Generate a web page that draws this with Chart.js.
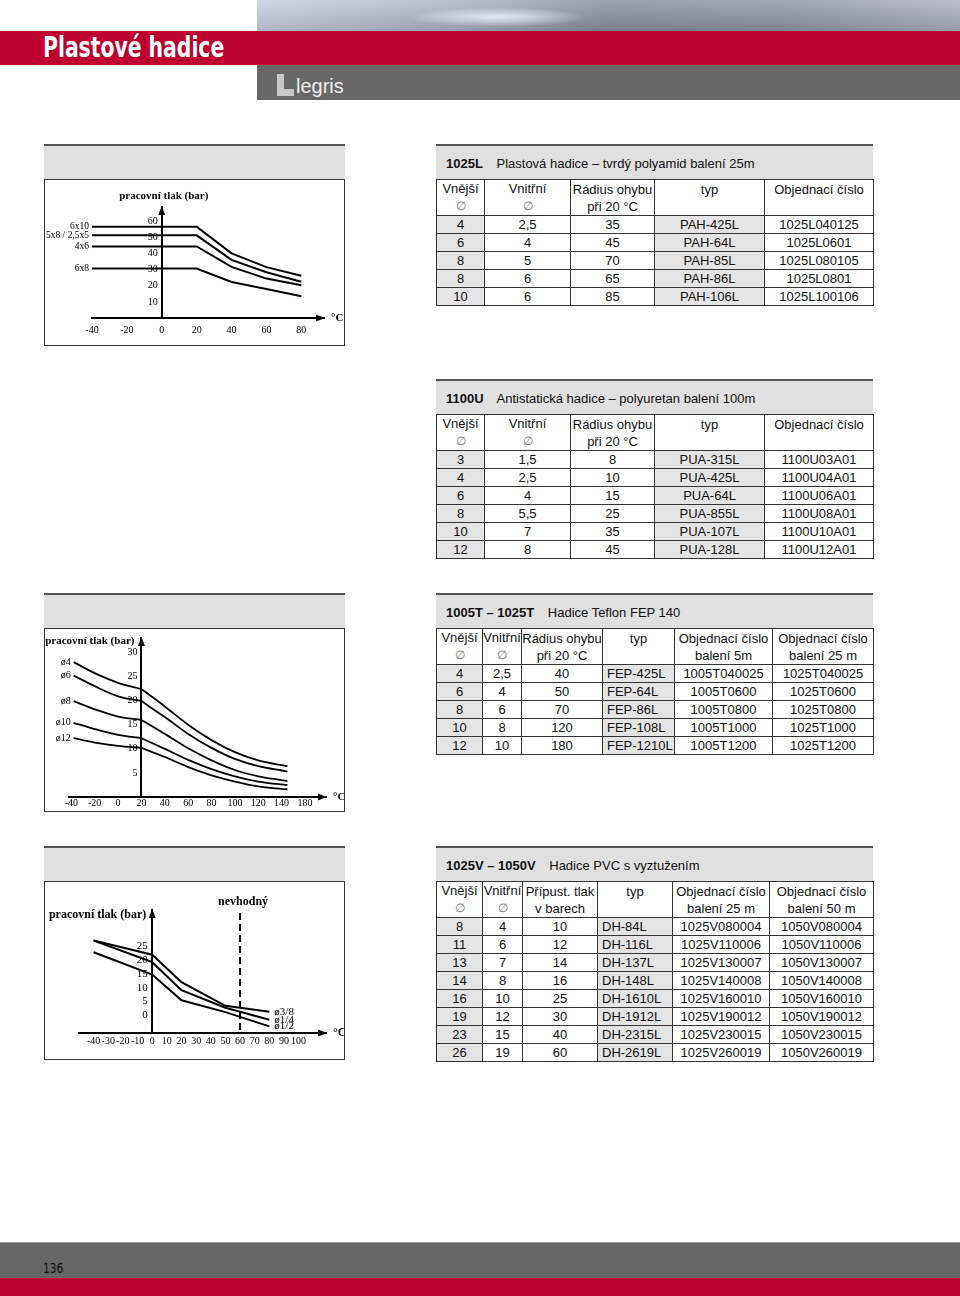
<!DOCTYPE html>
<html lang="cs">
<head>
<meta charset="utf-8">
<title>Plastové hadice</title>
<script src="https://cdn.jsdelivr.net/npm/chart.js@4/dist/chart.umd.min.js"></script>
<style>
html, body { margin: 0; padding: 0; }
body { width: 960px; height: 1296px; position: relative; overflow: hidden; background: #fff;
  font-family: "Liberation Sans", Arial, Helvetica, sans-serif; color: #111; }
.abs { position: absolute; }
#sky { left: 257px; top: 0; width: 703px; height: 31px;
  background:
    radial-gradient(ellipse 90px 10px at 240px 17px, rgba(235,242,250,0.9), rgba(235,242,250,0) 100%),
    linear-gradient(180deg, rgba(255,255,255,0.18), rgba(0,0,0,0.12)),
    linear-gradient(90deg, #c6d2df 0%, #a9b5c3 28%, #87919d 50%, #8e98a4 75%, #aab3bd 100%); }
#redbar { left: 0; top: 31px; width: 960px; height: 34px; background: #bc0030; }
#title { left: 43px; top: 32px; color: #fff; font: bold 29px "Liberation Sans Narrow", "DejaVu Sans Condensed", Arial, sans-serif;
  line-height: 31px; transform: scaleX(0.78); transform-origin: 0 0; white-space: nowrap; }
#graybar { left: 257px; top: 65px; width: 703px; height: 35px; background: #686868; }
#logoL1 { left: 277px; top: 74px; width: 7px; height: 22px; background: #c8c8c8; }
#logoL2 { left: 277px; top: 89px; width: 17px; height: 7px; background: #c8c8c8; }
#logoT { left: 296px; top: 75px; color: #eeeeee; font: 20px "Liberation Sans", Arial, sans-serif; }
#footgray { left: 0; top: 1242px; width: 960px; height: 36px; background: #666; border-top: 1px solid #9a9a9a; }
#footred { left: 0; top: 1278px; width: 960px; height: 18px; background: #bc0030; }
#pageno { left: 43px; top: 1260px; font: 14px "Liberation Sans Narrow", "DejaVu Sans Condensed", Arial, sans-serif; color: #111;
  transform: scaleX(0.85); transform-origin: 0 0; }
.band { position: absolute; height: 33px; background: #e0e0e0; border-top: 2px solid #555; }
.band span { position: absolute; left: 10px; top: 0; line-height: 36px; font-size: 13px; white-space: nowrap; }
.band b { margin-right: 10px; }
.box { position: absolute; left: 44px; width: 299px; border: 1px solid #333; background: #fff; }
.box canvas { position: absolute; left: 0; top: 0; }
table.t { position: absolute; left: 436px; width: 437px; border-collapse: collapse; table-layout: fixed; font-size: 13px; }
table.t td { border: 1px solid #333; padding: 0; text-align: center; height: 17px; line-height: 17px; white-space: nowrap; overflow: hidden; }
table.t tr.h td { height: 35px; line-height: 17px; vertical-align: middle; }
table.t td.g { background: #e4e4e4; }
table.t td.l { text-align: left; padding-left: 4px; }
.dia { color: #777; font-size: 12px; }
</style>
</head>
<body>
<div id="sky" class="abs"></div>
<div id="redbar" class="abs"></div>
<div id="title" class="abs">Plastové hadice</div>
<div id="graybar" class="abs"></div>
<div id="logoL1" class="abs"></div>
<div id="logoL2" class="abs"></div>
<div id="logoT" class="abs">legris</div>

<div class="band" style="left:44px;top:144px;width:301px"></div>
<div class="box" style="top:179px;height:165px"><canvas id="chartA" width="299" height="165"></canvas></div>
<div class="band" style="left:44px;top:593px;width:301px"></div>
<div class="box" style="top:628px;height:182px"><canvas id="chartB" width="299" height="182"></canvas></div>
<div class="band" style="left:44px;top:846px;width:301px"></div>
<div class="box" style="top:881px;height:177px"><canvas id="chartC" width="299" height="177"></canvas></div>

<div class="band" style="left:436px;top:144px;width:437px"><span><b>1025L</b> Plastová hadice – tvrdý polyamid balení 25m</span></div>
<div class="band" style="left:436px;top:379px;width:437px"><span><b>1100U</b> Antistatická hadice – polyuretan balení 100m</span></div>
<div class="band" style="left:436px;top:593px;width:437px"><span><b>1005T – 1025T</b> Hadice Teflon FEP 140</span></div>
<div class="band" style="left:436px;top:846px;width:437px"><span><b>1025V – 1050V</b> Hadice PVC s vyztužením</span></div>

<div id="tables"></div>

<div id="footgray" class="abs"></div>
<div id="footred" class="abs"></div>
<div id="pageno" class="abs">136</div>

<script>
'use strict';
// graf 1 - 1025L polyamid
var tempA = [-40, 20, 40, 60, 80];
var hoseA = ['6x10', '5x8 / 2,5x5', '4x6', '6x8'];
var p6x10 = [56.7, 56.7, 40.2, 31.6, 26.3];
var p5x8 = [51.4, 51.4, 36.1, 28.4, 22.5];
var p4x6 = [44.5, 44.5, 31.8, 24.5, 20.4];
var p6x8 = [30.8, 30.8, 22.4, 18.0, 13.5];
var xTicksA = [-40, -20, 0, 20, 40, 60, 80];
var yTicksA = [10, 20, 30, 40, 50, 60];

// graf 2 - teflon FEP
var tempB = [-38, -20, 0, 20, 40, 60, 80, 100, 120, 140, 145];
var hoseB = ['ø4', 'ø6', 'ø8', 'ø10', 'ø12'];
var pD4 = [28.0, 25.7, 23.7, 22.4, 18.8, 15.0, 11.8, 9.3, 7.6, 6.6, 6.4];
var pD6 = [25.2, 23.0, 20.9, 19.9, 16.6, 13.1, 10.2, 7.9, 6.4, 5.5, 5.3];
var pD8 = [19.9, 18.2, 16.7, 16.0, 13.1, 10.1, 7.6, 5.6, 4.3, 3.5, 3.3];
var pD10 = [15.4, 14.1, 12.9, 12.2, 10.0, 7.7, 5.8, 4.3, 3.2, 2.6, 2.5];
var pD12 = [12.2, 11.3, 10.6, 10.2, 8.3, 6.2, 4.5, 3.2, 2.2, 1.7, 1.6];
var xTicksB = [-40, -20, 0, 20, 40, 60, 80, 100, 120, 140, 160];
var xLabelsB = ['-40', '-20', '0', '20', '40', '60', '80', '100', '120', '140', '180'];
var yTicksB = [5, 10, 15, 20, 25, 30];

// graf 3 - PVC
var tempC = [-40, 0, 20, 50, 80];
var hoseC = ['ø3/8', 'ø1/4', 'ø1/2'];
var p38 = [27.2, 22.0, 12.0, 3.4, 1.2];
var p14 = [27.2, 19.3, 9.1, 2.7, -1.7];
var p12 = [22.9, 14.8, 5.4, 1.1, -4.1];
var xTicksC = [-40, -30, -20, -10, 0, 10, 20, 30, 40, 50, 60, 70, 80, 90, 100];
var yTicksC = [0, 5, 10, 15, 20, 25];

// tabulky
var headL = ['Vnější<br><span class="dia">∅</span>', 'Vnitřní<br><span class="dia">∅</span>', 'Rádius ohybu<br>při 20 °C', 'typ<br>&nbsp;', 'Objednací číslo<br>&nbsp;'];
var rowsL = [
	['4', '2,5', '35', 'PAH-425L', '1025L040125'],
	['6', '4', '45', 'PAH-64L', '1025L0601'],
	['8', '5', '70', 'PAH-85L', '1025L080105'],
	['8', '6', '65', 'PAH-86L', '1025L0801'],
	['10', '6', '85', 'PAH-106L', '1025L100106']
];
var rowsU = [
	['3', '1,5', '8', 'PUA-315L', '1100U03A01'],
	['4', '2,5', '10', 'PUA-425L', '1100U04A01'],
	['6', '4', '15', 'PUA-64L', '1100U06A01'],
	['8', '5,5', '25', 'PUA-855L', '1100U08A01'],
	['10', '7', '35', 'PUA-107L', '1100U10A01'],
	['12', '8', '45', 'PUA-128L', '1100U12A01']
];
var headT = ['Vnější<br><span class="dia">∅</span>', 'Vnitřní<br><span class="dia">∅</span>', 'Rádius ohybu<br>při 20 °C', 'typ<br>&nbsp;', 'Objednací číslo<br>balení 5m', 'Objednací číslo<br>balení 25 m'];
var rowsT = [
	['4', '2,5', '40', 'FEP-425L', '1005T040025', '1025T040025'],
	['6', '4', '50', 'FEP-64L', '1005T0600', '1025T0600'],
	['8', '6', '70', 'FEP-86L', '1005T0800', '1025T0800'],
	['10', '8', '120', 'FEP-108L', '1005T1000', '1025T1000'],
	['12', '10', '180', 'FEP-1210L', '1005T1200', '1025T1200']
];
var headV = ['Vnější<br><span class="dia">∅</span>', 'Vnitřní<br><span class="dia">∅</span>', 'Přípust. tlak<br>v barech', 'typ<br>&nbsp;', 'Objednací číslo<br>balení 25 m', 'Objednací číslo<br>balení 50 m'];
var rowsV = [
	['8', '4', '10', 'DH-84L', '1025V080004', '1050V080004'],
	['11', '6', '12', 'DH-116L', '1025V110006', '1050V110006'],
	['13', '7', '14', 'DH-137L', '1025V130007', '1050V130007'],
	['14', '8', '16', 'DH-148L', '1025V140008', '1050V140008'],
	['16', '10', '25', 'DH-1610L', '1025V160010', '1050V160010'],
	['19', '12', '30', 'DH-1912L', '1025V190012', '1050V190012'],
	['23', '15', '40', 'DH-2315L', '1025V230015', '1050V230015'],
	['26', '19', '60', 'DH-2619L', '1025V260019', '1050V260019']
];

function table(top, widths, head, rows, typLeft) {
	var h = '<table class="t" style="top:' + top + 'px"><colgroup>';
	widths.forEach(function (w) { h += '<col style="width:' + w + 'px">'; });
	h += '</colgroup><tr class="h">';
	head.forEach(function (c) { h += '<td>' + c + '</td>'; });
	h += '</tr>';
	rows.forEach(function (r) {
		h += '<tr>';
		r.forEach(function (c, i) {
			var cls = (i === 0 || i === 3) ? 'g' : '';
			if (i === 3 && typLeft) cls += ' l';
			h += '<td class="' + cls + '">' + c + '</td>';
		});
		h += '</tr>';
	});
	return h + '</table>';
}
document.getElementById('tables').innerHTML =
	table(179, [48, 86, 84, 110, 109], headL, rowsL, false) +
	table(414, [48, 86, 84, 110, 109], headL, rowsU, false) +
	table(628, [46, 39, 81, 72, 98, 101], headT, rowsT, true) +
	table(881, [46, 40, 75, 75, 97, 104], headV, rowsV, true);

Chart.defaults.font.family = '"Liberation Serif", "Times New Roman", serif';
Chart.defaults.font.size = 10;
Chart.defaults.color = '#000';
Chart.defaults.animation = false;

function pts(xs, ys) {
	return xs.map(function (x, i) { return { x: x, y: ys[i] }; });
}

// sipky, popisky os a krivek
var decor = {
	id: 'decor',
	afterDraw: function (chart, args, o) {
		var ctx = chart.ctx, a = chart.chartArea;
		var ax = chart.scales.x.getPixelForValue(o.axisAt);
		ctx.save();
		ctx.fillStyle = '#000';
		ctx.strokeStyle = '#000';
		ctx.beginPath();
		ctx.moveTo(a.right + 1, a.bottom);
		ctx.lineTo(a.right - 8, a.bottom - 3.5);
		ctx.lineTo(a.right - 8, a.bottom + 3.5);
		ctx.closePath();
		ctx.fill();
		ctx.beginPath();
		ctx.moveTo(ax, a.top - 1);
		ctx.lineTo(ax - 3.5, a.top + 8);
		ctx.lineTo(ax + 3.5, a.top + 8);
		ctx.closePath();
		ctx.fill();

		ctx.font = 'bold ' + o.titleSize + 'px "Liberation Serif", serif';
		ctx.textBaseline = 'middle';
		ctx.textAlign = 'left';
		ctx.fillText('°C', a.right + 7, a.bottom);
		ctx.textAlign = o.titleAlign;
		ctx.fillText('pracovní tlak (bar)', ax + o.titleDx, a.top + o.titleDy);

		if (o.vline !== undefined) {
			var vx = chart.scales.x.getPixelForValue(o.vline);
			ctx.lineWidth = 2;
			ctx.setLineDash([7, 4]);
			ctx.beginPath();
			ctx.moveTo(vx, a.top + 3);
			ctx.lineTo(vx, a.bottom);
			ctx.stroke();
			ctx.setLineDash([]);
			ctx.textAlign = 'center';
			ctx.fillText(o.vlineText, vx + 3, a.top - 8);
		}

		ctx.font = o.labelSize + 'px "Liberation Serif", serif';
		chart.data.datasets.forEach(function (ds, i) {
			if (!ds.tag) return;
			var el = chart.getDatasetMeta(i).data;
			var end = o.labelAt === 'end';
			var p = end ? el[el.length - 1] : el[0];
			ctx.textAlign = end ? 'left' : 'right';
			ctx.fillText(ds.tag, p.x + (end ? 5 : -3), p.y);
		});
		ctx.restore();
	}
};

// gap: mezera mezi popiskem a osou (osa umistena na hodnote)
function axis(min, max, ticks, extra, labels) {
	return Object.assign({
		type: 'linear',
		min: min,
		max: max,
		grid: { display: false, drawTicks: false },
		border: { display: true, color: '#000', width: 2 },
		ticks: {
			color: '#000',
			font: { size: extra.fs || 10 },
			padding: extra.pad,
			autoSkip: false,
			maxRotation: 0,
			callback: function (v, i) {
				return (labels ? labels[i] : String(v)) + (extra.gap ? '\u2009\u2009' : '');
			}
		},
		afterBuildTicks: function (s) {
			s.ticks = ticks.map(function (v) { return { value: v }; });
		}
	}, extra.opts || {});
}

function lineChart(id, datasets, xs, ys, deco, pad) {
	return new Chart(document.getElementById(id), {
		type: 'line',
		data: { datasets: datasets },
		options: {
			responsive: false,
			layout: { padding: pad },
			elements: { point: { radius: 0 } },
			plugins: { legend: { display: false }, tooltip: { enabled: false }, decor: deco },
			scales: { x: xs, y: ys }
		},
		plugins: [decor]
	});
}

var seriesA = [p6x10, p5x8, p4x6, p6x8];
lineChart('chartA',
	hoseA.map(function (n, i) {
		return { tag: n, data: pts(tempA, seriesA[i]), borderColor: '#000', borderWidth: 2, tension: 0, fill: false };
	}),
	axis(-40, 93, xTicksA, { pad: 6, opts: { position: 'bottom' } }),
	axis(0, 69, yTicksA, { pad: 3, gap: true, opts: { position: { x: 0 } } }),
	{ axisAt: 0, titleAlign: 'center', titleDx: 2, titleDy: -11, labelAt: 'start', titleSize: 11, labelSize: 9.5 },
	{ left: 47, right: 20, top: 27, bottom: 3 });

var seriesB = [pD4, pD6, pD8, pD10, pD12];
var dsB = [];
hoseB.forEach(function (n, i) {
	var s = seriesB[i];
	dsB.push({ tag: n, data: pts(tempB.slice(0, 4), s.slice(0, 4)), borderColor: '#000', borderWidth: 1.8, cubicInterpolationMode: 'monotone', fill: false });
	dsB.push({ data: pts(tempB.slice(3), s.slice(3)), borderColor: '#000', borderWidth: 1.8, cubicInterpolationMode: 'monotone', fill: false });
});
lineChart('chartB', dsB,
	axis(-42, 178, xTicksB, { pad: 0, opts: { position: 'bottom' } }, xLabelsB),
	axis(0, 33, yTicksB, { pad: 3, gap: true, opts: { position: { x: 20 } } }),
	{ axisAt: 20, titleAlign: 'right', titleDx: -7, titleDy: 3, labelAt: 'start', titleSize: 11, labelSize: 10 },
	{ left: 24, right: 18, top: 7, bottom: 2 });

var seriesC = [p38, p14, p12];
lineChart('chartC',
	hoseC.map(function (n, i) {
		return { tag: n, data: pts(tempC, seriesC[i]), borderColor: '#000', borderWidth: 2, tension: 0, fill: false };
	}),
	axis(-50, 118.7, xTicksC, { pad: 2, fs: 10, opts: { position: 'bottom' } }),
	axis(-6.5, 38.3, yTicksC, { pad: 3, fs: 11, gap: true, opts: { position: { x: 0 } } }),
	{ axisAt: 0, titleAlign: 'right', titleDx: -6, titleDy: 5, labelAt: 'end', vline: 60, vlineText: 'nevhodný', titleSize: 12, labelSize: 11 },
	{ left: 34, right: 18, top: 28, bottom: 10 });
</script>
</body>
</html>
